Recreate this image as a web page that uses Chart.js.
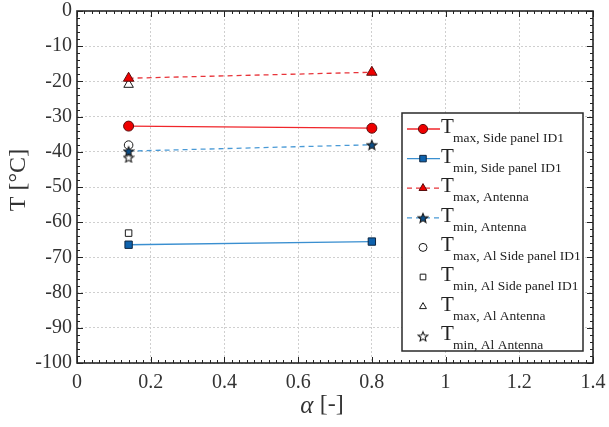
<!DOCTYPE html>
<html>
<head>
<meta charset="utf-8">
<script src="https://cdn.jsdelivr.net/npm/chart.js@4"></script>
<style>
html,body{margin:0;padding:0;background:#fff;}
#wrap{width:609px;height:427px;position:relative;}
</style>
</head>
<body>
<div id="wrap"><canvas id="c" width="609" height="427"></canvas></div>
<script>
// ---- data ----
const alphaValues = [0.14, 0.8];
const tmaxSidePanel = [-32.7, -33.3];
const tminSidePanel = [-66.4, -65.5];
const tmaxAntenna = [-19.1, -17.4];
const tminAntenna = [-39.8, -38.0];
const alAlpha = [0.14];
const tmaxAlSidePanel = [-38.1];
const tminAlSidePanel = [-63.1];
const tmaxAlAntenna = [-20.9];
const tminAlAntenna = [-41.6];
const legendMain = ["max, Side panel ID1","min, Side panel ID1","max, Antenna","min, Antenna","max, Al Side panel ID1","min, Al Side panel ID1","max, Al Antenna","min, Al Antenna"];
const xTitle = "[-]";
const yTitle = "T [°C]";

const SERIF = "'Liberation Serif','DejaVu Serif',serif";

function makeStar(fill, stroke, size) {
  const c = document.createElement('canvas');
  c.width = size; c.height = size;
  const g = c.getContext('2d');
  const cx = size/2, cy = size/2 + 0.6, R = size/2 - 1, r = R*0.45;
  g.beginPath();
  for (let i = 0; i < 10; i++) {
    const ang = -Math.PI/2 + i*Math.PI/5;
    const rad = i % 2 === 0 ? R : r;
    const px = cx + rad*Math.cos(ang), py = cy + rad*Math.sin(ang);
    if (i === 0) g.moveTo(px, py); else g.lineTo(px, py);
  }
  g.closePath();
  g.fillStyle = fill; g.fill();
  g.lineWidth = 1.1; g.strokeStyle = stroke; g.stroke();
  return c;
}
const starBlue = makeStar('#0b4f8a', '#1a1a1a', 12);
const starWhite = makeStar('#ffffff', '#1a1a1a', 12);

const pts = (xs, ys) => xs.map((x, i) => ({x: x, y: ys[i]}));

const datasets = [
  {label: legendMain[0], data: pts(alphaValues, tmaxSidePanel), borderColor: '#f0262b', backgroundColor: '#ee0000', borderWidth: 1.3,
   pointStyle: 'circle', pointRadius: 5, pointBorderColor: '#5a0f0f', pointBorderWidth: 1, showLine: true},
  {label: legendMain[1], data: pts(alphaValues, tminSidePanel), borderColor: '#3a8fd0', backgroundColor: '#0e62ad', borderWidth: 1.3,
   pointStyle: 'rect', pointRadius: 5.2, pointBorderColor: '#0d2540', pointBorderWidth: 1, showLine: true},
  {label: legendMain[2], data: pts(alphaValues, tmaxAntenna), borderColor: '#e8343a', backgroundColor: '#ee0000', borderWidth: 1.3, borderDash: [5,4],
   pointStyle: 'triangle', pointRadius: 6, pointBorderColor: '#5a0f0f', pointBorderWidth: 1, showLine: true},
  {label: legendMain[3], data: pts(alphaValues, tminAntenna), borderColor: '#4a9ad6', backgroundColor: '#0b4f8a', borderWidth: 1.3, borderDash: [5,4],
   pointStyle: starBlue, pointRadius: 6, showLine: true},
  {label: legendMain[4], data: pts(alAlpha, tmaxAlSidePanel), borderColor: '#1a1a1a', backgroundColor: '#ffffff',
   pointStyle: 'circle', pointRadius: 4.3, pointBorderColor: '#1a1a1a', pointBorderWidth: 1, showLine: false},
  {label: legendMain[5], data: pts(alAlpha, tminAlSidePanel), borderColor: '#1a1a1a', backgroundColor: '#ffffff',
   pointStyle: 'rect', pointRadius: 4.6, pointBorderColor: '#1a1a1a', pointBorderWidth: 1, showLine: false},
  {label: legendMain[6], data: pts(alAlpha, tmaxAlAntenna), borderColor: '#1a1a1a', backgroundColor: '#ffffff',
   pointStyle: 'triangle', pointRadius: 5.5, pointBorderColor: '#1a1a1a', pointBorderWidth: 1, showLine: false},
  {label: legendMain[7], data: pts(alAlpha, tminAlAntenna), borderColor: '#1a1a1a', backgroundColor: '#ffffff',
   pointStyle: starWhite, pointRadius: 6, showLine: false}
];

const decor = {
  id: 'decor',
  afterDraw(chart) {
    const ctx = chart.ctx;
    const a = chart.chartArea;
    const xs = chart.scales.x, ys = chart.scales.y;
    ctx.save();
    // minor / major ticks, inward, all four sides
    ctx.strokeStyle = '#222'; ctx.lineWidth = 1;
    for (let i = 0; i <= 70; i++) {
      const v = i*0.02;
      const px = Math.round(xs.getPixelForValue(v)) + 0.5;
      const len = (i % 10 === 0) ? 6 : 3;
      ctx.beginPath();
      ctx.moveTo(px, a.bottom); ctx.lineTo(px, a.bottom - len);
      ctx.moveTo(px, a.top); ctx.lineTo(px, a.top + len);
      ctx.stroke();
    }
    for (let i = 0; i <= 50; i++) {
      const v = -i*2;
      const py = Math.round(ys.getPixelForValue(v)) + 0.5;
      const len = (i % 5 === 0) ? 6 : 3;
      ctx.beginPath();
      ctx.moveTo(a.left, py); ctx.lineTo(a.left + len, py);
      ctx.moveTo(a.right, py); ctx.lineTo(a.right - len, py);
      ctx.stroke();
    }
    // frame
    ctx.lineWidth = 1.6; ctx.strokeStyle = '#262626';
    ctx.strokeRect(a.left, a.top, a.right - a.left, a.bottom - a.top);

    // axis titles
    ctx.fillStyle = '#333';
    ctx.textBaseline = 'middle';
    ctx.font = "italic 25px " + SERIF;
    const aw = ctx.measureText('α ').width;
    ctx.font = "24px " + SERIF;
    const tw = ctx.measureText(xTitle).width;
    const total = aw + tw;
    const x0 = 322 - total/2;
    ctx.textAlign = 'left';
    ctx.font = "italic 25px " + SERIF;
    ctx.fillText('α', x0, 406);
    ctx.font = "24px " + SERIF;
    ctx.fillText(xTitle, x0 + aw, 405);
    ctx.save();
    ctx.translate(19, 180);
    ctx.rotate(-Math.PI/2);
    ctx.textAlign = 'center';
    ctx.font = "24px " + SERIF;
    ctx.fillText(yTitle, 0, 0);
    ctx.restore();

    // legend
    const lx = 402, ly = 113, lw = 181, lh = 238;
    ctx.fillStyle = '#fff';
    ctx.fillRect(lx, ly, lw, lh);
    ctx.lineWidth = 1.5; ctx.strokeStyle = '#2a2a2a';
    ctx.strokeRect(lx, ly, lw, lh);
    chart.data.datasets.forEach((ds, i) => {
      const cy = 129 + i*29.6;
      if (ds.showLine) {
        ctx.save();
        ctx.strokeStyle = ds.borderColor; ctx.lineWidth = ds.borderWidth;
        ctx.setLineDash(ds.borderDash || []);
        ctx.beginPath(); ctx.moveTo(407, cy); ctx.lineTo(440, cy); ctx.stroke();
        ctx.restore();
      }
      ctx.save();
      ctx.fillStyle = ds.backgroundColor;
      ctx.strokeStyle = ds.pointBorderColor || '#1a1a1a';
      ctx.lineWidth = ds.pointBorderWidth || 1;
      Chart.helpers.drawPoint(ctx, {pointStyle: ds.pointStyle, radius: i >= 4 ? 4 : 4.6, borderWidth: ctx.lineWidth, rotation: 0}, 423, cy);
      ctx.restore();
      ctx.fillStyle = '#222';
      ctx.textAlign = 'left'; ctx.textBaseline = 'alphabetic';
      ctx.font = "21px " + SERIF;
      ctx.fillText('T', 441, cy + 4);
      ctx.font = "13.5px " + SERIF;
      ctx.fillText(ds.label, 453, cy + 13);
    });
    ctx.restore();
  }
};

new Chart(document.getElementById('c'), {
  type: 'scatter',
  data: {datasets: datasets},
  options: {
    responsive: false,
    animation: false,
    events: [],
    layout: {padding: {top: 11, right: 16, left: 0, bottom: 0}},
    plugins: {legend: {display: false}, tooltip: {enabled: false}},
    scales: {
      x: {
        type: 'linear', min: 0, max: 1.4,
        afterFit(s) { s.height = 64; s.paddingLeft = 0; s.paddingRight = 0; },
        ticks: {stepSize: 0.2, color: '#333', padding: 8, font: {family: SERIF, size: 20},
          callback: v => Number(v.toFixed(1)).toString()},
        grid: {color: '#cfcfcf', lineWidth: 1, drawTicks: false},
        border: {display: false, dash: [2, 2]}
      },
      y: {
        type: 'linear', min: -100, max: 0,
        afterFit(s) { s.width = 77; s.paddingTop = 0; s.paddingBottom = 0; },
        ticks: {stepSize: 10, color: '#333', padding: 5, font: {family: SERIF, size: 20}},
        grid: {color: '#cfcfcf', lineWidth: 1, drawTicks: false},
        border: {display: false, dash: [2, 2]}
      }
    }
  },
  plugins: [decor]
});
</script>
</body>
</html>
